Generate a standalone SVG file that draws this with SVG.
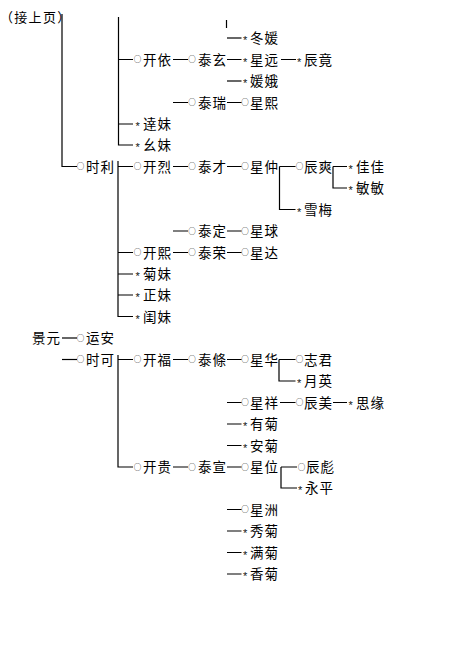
<svg xmlns="http://www.w3.org/2000/svg" width="470" height="660" viewBox="0 0 470 660">
<style>
.bg{fill:#fff}
.c path{fill:none;stroke:#000;stroke-width:1.2}
text{font-family:"Noto Sans CJK SC","Noto Sans CJK TC",sans-serif;font-size:13.5px;letter-spacing:1px;fill:#000}
.o{font-size:7.5px;letter-spacing:0;fill:#000}
.s{font-family:"Liberation Sans","Noto Sans CJK SC",sans-serif;font-size:11px;letter-spacing:0;fill:#111}
.h{font-size:13px;letter-spacing:1.3px}
</style>
<rect class="bg" x="0" y="0" width="470" height="660"/>
<g class="c" id="connectors">
<path d="M62 14V166.5H77"/>
<path d="M118.5 17V145H133M118.5 59.5H133M118.5 124H133"/>
<path d="M226.5 20V28"/>
<path d="M227 38H241.5"/>
<path d="M173 59.5H188M227 59.5H241.5M281 59.5H296"/>
<path d="M227 81H241.5"/>
<path d="M173 102.5H188M227 102.5H241.5"/>
<path d="M118 161V316.5H133M118 166.5H133M118 252.5H133M118 274H133M118 295H133"/>
<path d="M173 166.5H188M227 166.5H241.5"/>
<path d="M279.5 166.5H295.5M279.5 166.5V209.5H295.5"/>
<path d="M333 166.5H347M333 166.5V188H347"/>
<path d="M173 231H188M227 231H241.5"/>
<path d="M173 252.5H188M227 252.5H241.5"/>
<path d="M62 338H77"/>
<path d="M62 359.5H77"/>
<path d="M118 355V467H133M118 359.5H133"/>
<path d="M173 359.5H188M227 359.5H241.5"/>
<path d="M279 359.5H295.5M279 359.5V381H295.5"/>
<path d="M227 402.5H241.5M280 402.5H295.5M333 402.5H347"/>
<path d="M227 424H241.5M227 445.5H241.5"/>
<path d="M173 467H188M227 467H241.5"/>
<path d="M281 467H297M281 467V488H297"/>
<path d="M227 509.5H241.5M227 531H241.5M227 552.5H241.5M227 574H241.5"/>
</g>
<g id="header"><text class="h" x="0" y="22">（接上页）</text></g>
<g id="n-dongyuan"><text><tspan class="s" x="243" y="44.4">*</tspan><tspan x="250" y="43">冬媛</tspan></text></g>
<g id="n-kaiyi"><text><tspan class="o" x="133.75" y="62.35">○</tspan><tspan x="143" y="64.5">开依</tspan></text></g>
<g id="n-taixuan"><text><tspan class="o" x="188.25" y="62.35">○</tspan><tspan x="198" y="64.5">泰玄</tspan></text></g>
<g id="n-xingyuan"><text><tspan class="s" x="243" y="65.9">*</tspan><tspan x="250" y="64.5">星远</tspan></text></g>
<g id="n-chenjing"><text><tspan class="s" x="297" y="65.9">*</tspan><tspan x="304" y="64.5">辰竟</tspan></text></g>
<g id="n-yuane"><text><tspan class="s" x="243" y="87.4">*</tspan><tspan x="250" y="86">媛娥</tspan></text></g>
<g id="n-tairui"><text><tspan class="o" x="188.25" y="105.35">○</tspan><tspan x="198" y="107.5">泰瑞</tspan></text></g>
<g id="n-xingxi"><text><tspan class="o" x="241.25" y="105.35">○</tspan><tspan x="250" y="107.5">星熙</tspan></text></g>
<g id="n-damei"><text><tspan class="s" x="135.5" y="130.4">*</tspan><tspan x="143" y="129">逹妹</tspan></text></g>
<g id="n-yaomei"><text><tspan class="s" x="135.5" y="151.4">*</tspan><tspan x="143" y="150">幺妹</tspan></text></g>
<g id="n-shili"><text><tspan class="o" x="76.75" y="169.35">○</tspan><tspan x="86" y="171.5">时利</tspan></text></g>
<g id="n-kailie"><text><tspan class="o" x="133.75" y="169.35">○</tspan><tspan x="143" y="171.5">开烈</tspan></text></g>
<g id="n-taicai"><text><tspan class="o" x="188.25" y="169.35">○</tspan><tspan x="198" y="171.5">泰才</tspan></text></g>
<g id="n-xingzhong"><text><tspan class="o" x="241.25" y="169.35">○</tspan><tspan x="250" y="171.5">星仲</tspan></text></g>
<g id="n-chenshuang"><text><tspan class="o" x="295.75" y="169.35">○</tspan><tspan x="304" y="171.5">辰爽</tspan></text></g>
<g id="n-jiajia"><text><tspan class="s" x="348.5" y="172.9">*</tspan><tspan x="356" y="171.5">佳佳</tspan></text></g>
<g id="n-minmin"><text><tspan class="s" x="348.5" y="194.4">*</tspan><tspan x="356" y="193">敏敏</tspan></text></g>
<g id="n-xuemei"><text><tspan class="s" x="297" y="215.9">*</tspan><tspan x="304" y="214.5">雪梅</tspan></text></g>
<g id="n-taiding"><text><tspan class="o" x="188.25" y="233.85">○</tspan><tspan x="198" y="236">泰定</tspan></text></g>
<g id="n-xingqiu"><text><tspan class="o" x="241.25" y="233.85">○</tspan><tspan x="250" y="236">星球</tspan></text></g>
<g id="n-kaixi"><text><tspan class="o" x="133.75" y="255.35">○</tspan><tspan x="143" y="257.5">开熙</tspan></text></g>
<g id="n-tairong"><text><tspan class="o" x="188.25" y="255.35">○</tspan><tspan x="198" y="257.5">泰荣</tspan></text></g>
<g id="n-xingda"><text><tspan class="o" x="241.25" y="255.35">○</tspan><tspan x="250" y="257.5">星达</tspan></text></g>
<g id="n-jumei"><text><tspan class="s" x="135.5" y="280.4">*</tspan><tspan x="143" y="279">菊妹</tspan></text></g>
<g id="n-zhengmei"><text><tspan class="s" x="135.5" y="301.4">*</tspan><tspan x="143" y="300">正妹</tspan></text></g>
<g id="n-guimei"><text><tspan class="s" x="135.5" y="322.9">*</tspan><tspan x="143" y="321.5">闺妹</tspan></text></g>
<g id="n-jingyuan"><text x="32" y="343">景元</text></g>
<g id="n-yunan"><text><tspan class="o" x="76.75" y="340.85">○</tspan><tspan x="86" y="343">运安</tspan></text></g>
<g id="n-shike"><text><tspan class="o" x="76.75" y="362.35">○</tspan><tspan x="86" y="364.5">时可</tspan></text></g>
<g id="n-kaifu"><text><tspan class="o" x="133.75" y="362.35">○</tspan><tspan x="143" y="364.5">开福</tspan></text></g>
<g id="n-taitiao"><text><tspan class="o" x="188.25" y="362.35">○</tspan><tspan x="198" y="364.5">泰條</tspan></text></g>
<g id="n-xinghua"><text><tspan class="o" x="241.25" y="362.35">○</tspan><tspan x="250" y="364.5">星华</tspan></text></g>
<g id="n-zhijun"><text><tspan class="o" x="295.75" y="362.35">○</tspan><tspan x="304" y="364.5">志君</tspan></text></g>
<g id="n-yueying"><text><tspan class="s" x="297" y="387.4">*</tspan><tspan x="304" y="386">月英</tspan></text></g>
<g id="n-xingxiang"><text><tspan class="o" x="241.25" y="405.35">○</tspan><tspan x="250" y="407.5">星祥</tspan></text></g>
<g id="n-chenmei"><text><tspan class="o" x="295.75" y="405.35">○</tspan><tspan x="304" y="407.5">辰美</tspan></text></g>
<g id="n-siyuan"><text><tspan class="s" x="348.5" y="408.9">*</tspan><tspan x="356" y="407.5">思缘</tspan></text></g>
<g id="n-youju"><text><tspan class="s" x="243" y="430.4">*</tspan><tspan x="250" y="429">有菊</tspan></text></g>
<g id="n-anju"><text><tspan class="s" x="243" y="451.9">*</tspan><tspan x="250" y="450.5">安菊</tspan></text></g>
<g id="n-kaigui"><text><tspan class="o" x="133.75" y="469.85">○</tspan><tspan x="143" y="472">开贵</tspan></text></g>
<g id="n-taixuan2"><text><tspan class="o" x="188.25" y="469.85">○</tspan><tspan x="198" y="472">泰宣</tspan></text></g>
<g id="n-xingwei"><text><tspan class="o" x="241.25" y="469.85">○</tspan><tspan x="250" y="472">星位</tspan></text></g>
<g id="n-chenbiao"><text><tspan class="o" x="297.75" y="469.85">○</tspan><tspan x="306" y="472">辰彪</tspan></text></g>
<g id="n-yongping"><text><tspan class="s" x="298" y="494.4">*</tspan><tspan x="305" y="493">永平</tspan></text></g>
<g id="n-xingzhou"><text><tspan class="o" x="241.25" y="512.35">○</tspan><tspan x="250" y="514.5">星洲</tspan></text></g>
<g id="n-xiuju"><text><tspan class="s" x="243" y="537.4">*</tspan><tspan x="250" y="536">秀菊</tspan></text></g>
<g id="n-manju"><text><tspan class="s" x="243" y="558.9">*</tspan><tspan x="250" y="557.5">满菊</tspan></text></g>
<g id="n-xiangju"><text><tspan class="s" x="243" y="580.4">*</tspan><tspan x="250" y="579">香菊</tspan></text></g>
</svg>
